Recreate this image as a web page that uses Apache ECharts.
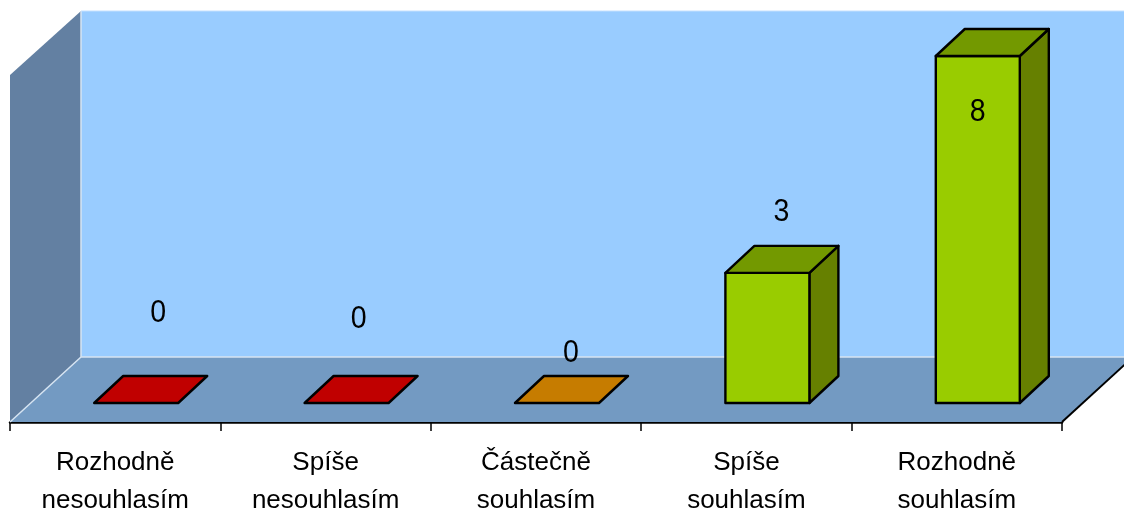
<!DOCTYPE html>
<html><head><meta charset="utf-8">
<style>html,body{margin:0;padding:0;background:#fff}#c{width:1124px;height:510px;filter:blur(0.45px)}</style>
<script src="https://cdn.jsdelivr.net/npm/echarts@6/dist/echarts.min.js"></script>
</head><body><div id="c"></div>
<script>
const categories = ['Rozhodně\nnesouhlasím','Spíše\nnesouhlasím','Částečně\nsouhlasím','Spíše\nsouhlasím','Rozhodně\nsouhlasím'];
const values = [0,0,0,3,8];

// styling and layout, separate from the data
const faceColors = [
  {front:'#C00000',top:'#C00000',side:'#900000'},
  {front:'#C00000',top:'#C00000',side:'#900000'},
  {front:'#C67C00',top:'#C67C00',side:'#945D00'},
  {front:'#99CC00',top:'#739900',side:'#668000'},
  {front:'#99CC00',top:'#739900',side:'#668000'}
];
const labelShift = [[22,-91],[12,-85],[14,-51],[14,-61],[0,55]];
const barShift = 21, barHalf = 42, depthX = 29, depthY = 27;
const wallDX = 71, wallDY = 65, floorDrop = 19, wallTopAboveFloor = 346;

const chart = echarts.init(document.getElementById('c'));

function renderRoom(params, api){
  const cs = params.coordSys;
  const fy = api.coord([0,0])[1] + floorDrop;   // front floor edge (axis)
  const x0 = cs.x, x1 = cs.x + cs.width;
  const by = fy - wallDY, bx = x0 + wallDX, ty = by - wallTopAboveFloor;
  const W = api.getWidth();
  const light = '#D6E4F2';
  return {type:'group',children:[
    {type:'rect',shape:{x:bx,y:ty,width:W-bx,height:by-ty},style:{fill:'#99CCFF'}},
    {type:'polygon',shape:{points:[[x0,fy],[x0,ty+wallDY-1],[bx,ty],[bx,by]]},style:{fill:'#6380A2'}},
    {type:'polygon',shape:{points:[[x0,fy],[bx,by],[x1+wallDX,by],[x1,fy]]},style:{fill:'#739AC2'}},
    {type:'polyline',shape:{points:[[bx,ty],[bx,by],[W,by]]},style:{stroke:light,fill:null,lineWidth:1.5}},
    {type:'line',shape:{x1:bx,y1:ty,x2:W,y2:ty},style:{stroke:'#C4E0FF',lineWidth:1}},
    {type:'line',shape:{x1:x0,y1:fy,x2:bx,y2:by},style:{stroke:light,lineWidth:1.5}},
    {type:'line',shape:{x1:x1,y1:fy,x2:x1+wallDX,y2:by},style:{stroke:'#000',lineWidth:2}}
  ]};
}

function renderBar(params, api){
  const i = api.value(0), v = api.value(1);
  const base = api.coord([i,0]), top = api.coord([i,v]);
  const cx = base[0] + barShift;
  const l = cx - barHalf, r = cx + barHalf, b = base[1], t = top[1];
  const c = faceColors[i], ln = {stroke:'#000',lineWidth:2.4,lineJoin:'round'};
  const kids = [];
  if (v > 0) {
    kids.push({type:'polygon',shape:{points:[[r,t],[r+depthX,t-depthY],[r+depthX,b-depthY],[r,b]]},style:{fill:c.side,...ln}});
    kids.push({type:'rect',shape:{x:l,y:t,width:r-l,height:b-t},style:{fill:c.front,...ln}});
  }
  kids.push({type:'polygon',shape:{points:[[l,t],[l+depthX,t-depthY],[r+depthX,t-depthY],[r,t]]},style:{fill:c.top,...ln}});
  const s = labelShift[i];
  kids.push({type:'text',x:cx+s[0],y:t+s[1]+1,scaleX:0.92,style:{text:String(v),fill:'#000',font:'31px "Liberation Sans"',align:'center',verticalAlign:'middle'}});
  return {type:'group',children:kids};
}

chart.setOption({
  animation:false,
  backgroundColor:'#fff',
  grid:{left:10,right:62,top:56,bottom:107,containLabel:false,outerBoundsMode:'none'},
  xAxis:{type:'category',data:categories,offset:19,
    axisLine:{show:true,onZero:false,lineStyle:{color:'#000',width:2.5}},
    axisTick:{show:true,length:9,lineStyle:{color:'#000',width:1.5}},
    axisLabel:{color:'#000',fontFamily:'Liberation Sans',fontSize:26,lineHeight:38,margin:22,interval:0}
  },
  yAxis:{type:'value',min:0,max:8,interval:1,show:false,splitLine:{show:false}},
  series:[
    {type:'custom',coordinateSystem:'cartesian2d',z:1,clip:false,silent:true,data:[[0,0]],renderItem:renderRoom},
    {type:'custom',coordinateSystem:'cartesian2d',z:3,clip:false,data:values.map((v,i)=>[i,v]),encode:{x:0,y:1},renderItem:renderBar}
  ]
});
</script></body></html>
